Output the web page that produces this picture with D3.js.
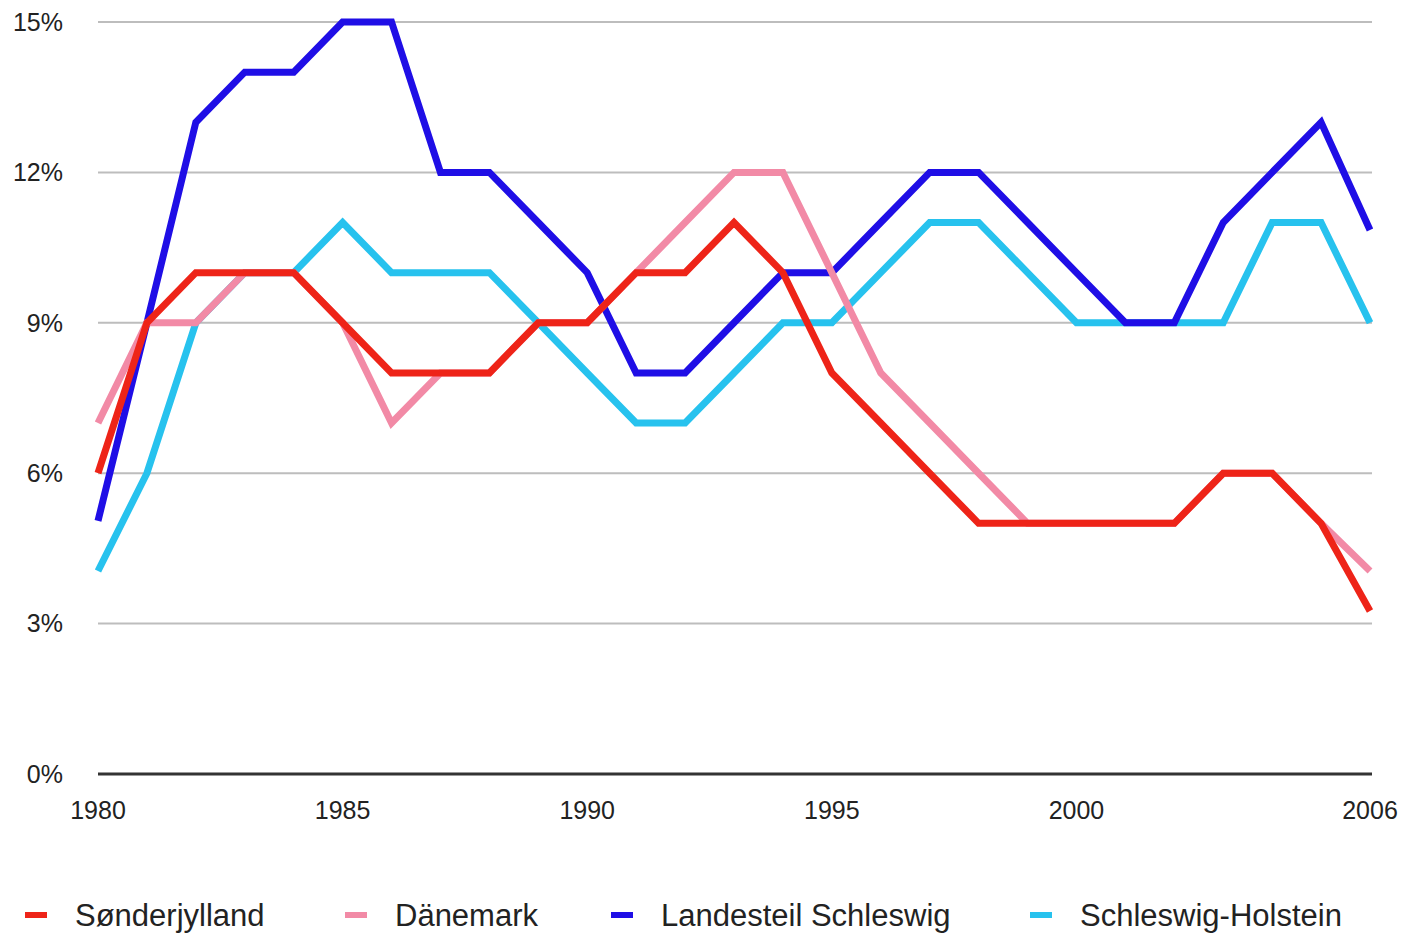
<!DOCTYPE html>
<html>
<head>
    <title>Arbeitslosenquote 1980-2006</title>
    <script src="https://d3js.org/d3.v7.min.js"></script>
    <style>
        html, body {
            margin: 0;
            height: 100%;
            overflow: hidden;
            background: #fff;
        }
        #chart {
            width: 1407px;
            height: 935px;
        }
        text {
            font-family: "Liberation Sans", Arial, sans-serif;
            fill: #222;
        }
    </style>
</head>
<body>
    <div id="chart"></div>

    <script>
        // Data (percent)
        const years = d3.range(1980, 2007);
        const soenderjylland = [6, 9, 10, 10, 10, 9, 8, 8, 8, 9, 9, 10, 10, 11, 10, 8, 7, 6, 5, 5, 5, 5, 5, 6, 6, 5, 3.25];
        const daenemark      = [7, 9, 9, 10, 10, 9, 7, 8, 8, 9, 9, 10, 11, 12, 12, 10, 8, 7, 6, 5, 5, 5, 5, 6, 6, 5, 4.05];
        const landesteil     = [5.05, 9, 13, 14, 14, 15, 15, 12, 12, 11, 10, 8, 8, 9, 10, 10, 11, 12, 12, 11, 10, 9, 9, 11, 12, 13, 10.85];
        const schleswigHol   = [4.05, 6, 9, 10, 10, 11, 10, 10, 10, 9, 8, 7, 7, 8, 9, 9, 10, 11, 11, 10, 9, 9, 9, 9, 11, 11, 9];

        const yTicks = [0, 3, 6, 9, 12, 15];
        const xTicks = [1980, 1985, 1990, 1995, 2000, 2006];

        const series = [
            {name: "Sønderjylland", values: soenderjylland, color: "#ee2418"},
            {name: "Dänemark", values: daenemark, color: "#f28aa6"},
            {name: "Landesteil Schleswig", values: landesteil, color: "#1f0ee6"},
            {name: "Schleswig-Holstein", values: schleswigHol, color: "#27c2ee"}
        ];
        // drawing order: first drawn lies below
        const drawOrder = ["Schleswig-Holstein", "Landesteil Schleswig", "Dänemark", "Sønderjylland"];

        const W = 1407, H = 935;
        const margin = {top: 22, right: 37, bottom: 161, left: 98};

        const svg = d3.select("#chart")
            .append("svg")
            .attr("width", W)
            .attr("height", H);

        const x = d3.scaleLinear()
            .domain([1980, 2006])
            .range([margin.left, W - margin.right]);

        const y = d3.scaleLinear()
            .domain([0, 15])
            .range([H - margin.bottom, margin.top]);

        // Grid lines
        svg.append("g")
            .selectAll("line")
            .data(yTicks)
            .join("line")
            .attr("x1", x(1980))
            .attr("x2", x(2006) + 2)
            .attr("y1", d => y(d))
            .attr("y2", d => y(d))
            .attr("stroke", d => d === 0 ? "#333" : "#bdbdbd")
            .attr("stroke-width", d => d === 0 ? 3 : 2);

        // Y labels
        svg.append("g")
            .selectAll("text")
            .data(yTicks)
            .join("text")
            .attr("x", 63)
            .attr("y", d => y(d))
            .attr("dy", "0.35em")
            .attr("text-anchor", "end")
            .style("font-size", "25px")
            .text(d => d + "%");

        // X labels
        svg.append("g")
            .selectAll("text")
            .data(xTicks)
            .join("text")
            .attr("x", d => x(d))
            .attr("y", 810)
            .attr("dy", "0.35em")
            .attr("text-anchor", "middle")
            .style("font-size", "25px")
            .text(d => d);

        // Lines
        const line = d3.line()
            .x((d, i) => x(years[i]))
            .y(d => y(d));

        svg.append("g")
            .selectAll("path")
            .data(drawOrder.map(n => series.find(s => s.name === n)))
            .join("path")
            .attr("d", d => line(d.values))
            .attr("fill", "none")
            .attr("stroke", d => d.color)
            .attr("stroke-width", 7)
            .attr("stroke-linejoin", "miter");

        // Legend
        const legendX = [25, 345, 611, 1030];
        const legend = svg.append("g")
            .selectAll("g")
            .data(series)
            .join("g")
            .attr("transform", (d, i) => `translate(${legendX[i]},915)`);

        legend.append("line")
            .attr("x1", 0)
            .attr("x2", 22)
            .attr("stroke", d => d.color)
            .attr("stroke-width", 6);

        legend.append("text")
            .attr("x", 50)
            .attr("dy", "0.35em")
            .style("font-size", "31px")
            .text(d => d.name);
    </script>
</body>
</html>
